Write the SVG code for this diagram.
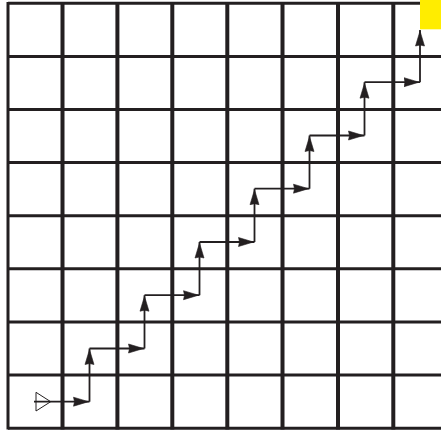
<svg xmlns="http://www.w3.org/2000/svg" width="441" height="430" viewBox="0 0 441 430">
  <style>
    .hl { stroke: #231f20; stroke-width: 3; }
    .vl { stroke: #231f20; stroke-width: 4; }
    .edge { stroke: #231f20; stroke-width: 3; }
    .step { stroke: #231f20; stroke-width: 1.8; fill: none; marker-end: url(#arr); }
  </style>
  <defs>
    <marker id="arr" markerUnits="userSpaceOnUse" markerWidth="18" markerHeight="11" viewBox="0 0 18 11" refX="16.5" refY="5.5" orient="auto">
      <path d="M0.5,1 L15.5,5.5 L0.5,10 L1.5,5.5 Z" fill="#231f20" stroke="#231f20" stroke-width="0.6" stroke-linejoin="round"/>
    </marker>
  </defs>
  <rect width="441" height="430" fill="#ffffff"/>
  <g id="grid">
    <line class="hl" x1="8" y1="3.3" x2="441" y2="3.3"/>
    <line class="hl" x1="8" y1="56.4" x2="441" y2="56.4"/>
    <line class="hl" x1="8" y1="109.5" x2="441" y2="109.5"/>
    <line class="hl" x1="8" y1="162.6" x2="441" y2="162.6"/>
    <line class="hl" x1="8" y1="215.7" x2="441" y2="215.7"/>
    <line class="hl" x1="8" y1="268.8" x2="441" y2="268.8"/>
    <line class="hl" x1="8" y1="321.9" x2="441" y2="321.9"/>
    <line class="hl" x1="8" y1="375" x2="441" y2="375"/>
    <line class="hl" x1="8" y1="428.2" x2="441" y2="428.2"/>
    <line class="edge" x1="8" y1="2" x2="8" y2="429.5"/>
    <line class="vl" x1="62.5" y1="2" x2="62.5" y2="429.5"/>
    <line class="vl" x1="117.4" y1="2" x2="117.4" y2="429.5"/>
    <line class="vl" x1="172.3" y1="2" x2="172.3" y2="429.5"/>
    <line class="vl" x1="227.3" y1="2" x2="227.3" y2="429.5"/>
    <line class="vl" x1="282.5" y1="2" x2="282.5" y2="429.5"/>
    <line class="vl" x1="338" y1="2" x2="338" y2="429.5"/>
    <line class="vl" x1="393.3" y1="2" x2="393.3" y2="429.5"/>
  </g>
  <g id="goal">
    <rect x="420" y="0" width="21" height="29.3" fill="#ffed00"/>
  </g>
  <g id="connectors">
    <line class="step" x1="34" y1="401.7" x2="89.5" y2="401.7"/>
    <line class="step" x1="89.5" y1="401.7" x2="89.5" y2="348.5"/>
    <line class="step" x1="89.5" y1="348.5" x2="144.5" y2="348.5"/>
    <line class="step" x1="144.5" y1="348.5" x2="144.5" y2="295.2"/>
    <line class="step" x1="144.5" y1="295.2" x2="199.5" y2="295.2"/>
    <line class="step" x1="199.5" y1="295.2" x2="199.5" y2="242"/>
    <line class="step" x1="199.5" y1="242" x2="254.5" y2="242"/>
    <line class="step" x1="254.5" y1="242" x2="254.5" y2="188.7"/>
    <line class="step" x1="254.5" y1="188.7" x2="309.5" y2="188.7"/>
    <line class="step" x1="309.5" y1="188.7" x2="309.5" y2="135.5"/>
    <line class="step" x1="309.5" y1="135.5" x2="364.5" y2="135.5"/>
    <line class="step" x1="364.5" y1="135.5" x2="364.5" y2="82.2"/>
    <line class="step" x1="364.5" y1="82.2" x2="420" y2="82.2"/>
    <line class="step" x1="420" y1="82.2" x2="420" y2="30"/>
  </g>
  <g id="start">
    <polygon points="36,392.3 50.7,401.7 36,411" fill="none" stroke="#231f20" stroke-width="1"/>
  </g>
</svg>
